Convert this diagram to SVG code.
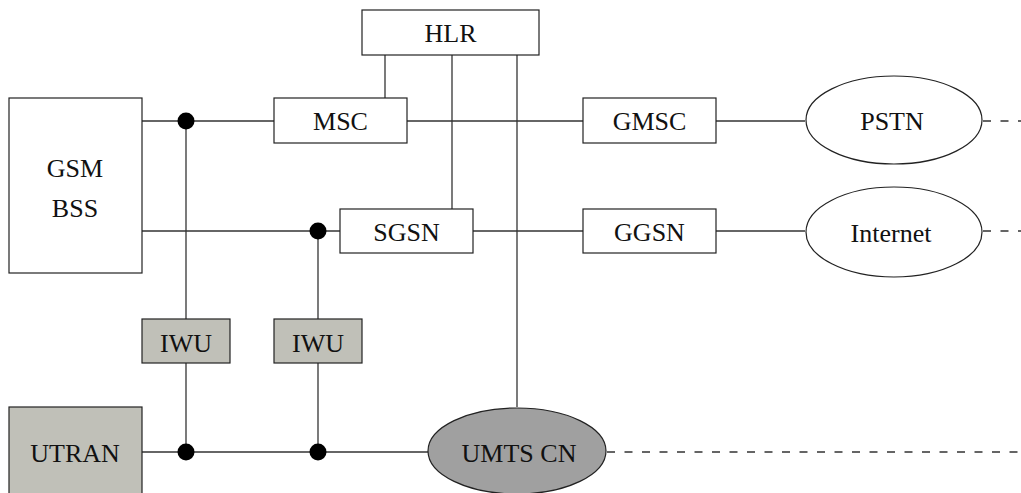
<svg xmlns="http://www.w3.org/2000/svg" width="1021" height="493" viewBox="0 0 1021 493">
  <style>
    .box { fill: #ffffff; stroke: #222222; stroke-width: 1.2; }
    .iwu { fill: #c0c0b8; stroke: #222222; stroke-width: 1.2; }
    .cn { fill: #a0a0a0; stroke: #222222; stroke-width: 1.2; }
    .line { stroke: #333333; stroke-width: 1.3; fill: none; }
    .dash { stroke: #333333; stroke-width: 1.3; fill: none; stroke-dasharray: 8 9.5; }
    .dot { fill: #000000; }
    .lbl { font-family: 'Liberation Serif', 'DejaVu Serif', serif; font-size: 26px; fill: #111111; text-anchor: middle; }
  </style>

  <!-- connectors -->
  <g id="connectors">
    <!-- circuit-switched row -->
    <line class="line" x1="142" y1="121" x2="274" y2="121"/>
    <line class="line" x1="407" y1="121" x2="583" y2="121"/>
    <line class="line" x1="716" y1="121" x2="805" y2="121"/>
    <line class="dash" x1="983" y1="121" x2="1021" y2="121"/>
    <!-- packet-switched row -->
    <line class="line" x1="142" y1="231" x2="340" y2="231"/>
    <line class="line" x1="473" y1="231" x2="583" y2="231"/>
    <line class="line" x1="716" y1="231" x2="805" y2="231"/>
    <line class="dash" x1="983" y1="231" x2="1021" y2="231"/>
    <!-- UMTS row -->
    <line class="line" x1="142" y1="452" x2="428" y2="452"/>
    <line class="dash" x1="607" y1="452" x2="1021" y2="452"/>
    <!-- HLR links -->
    <line class="line" x1="385" y1="55" x2="385" y2="98"/>
    <line class="line" x1="452" y1="55" x2="452" y2="209"/>
    <line class="line" x1="517" y1="55" x2="517" y2="407"/>
    <!-- interworking verticals -->
    <line class="line" x1="186" y1="121" x2="186" y2="319"/>
    <line class="line" x1="186" y1="363" x2="186" y2="452"/>
    <line class="line" x1="318" y1="231" x2="318" y2="319"/>
    <line class="line" x1="318" y1="363" x2="318" y2="452"/>
    <!-- junction dots -->
    <circle class="dot" cx="186" cy="121" r="8.5"/>
    <circle class="dot" cx="318" cy="231" r="8.5"/>
    <circle class="dot" cx="186" cy="452" r="8.5"/>
    <circle class="dot" cx="318" cy="452" r="8.5"/>
  </g>

  <g id="hlr">
    <rect class="box" x="362" y="10" width="177" height="45"/>
    <text class="lbl" x="450.5" y="42">HLR</text>
  </g>

  <g id="gsm-bss">
    <rect class="box" x="9" y="98" width="133" height="175"/>
    <text class="lbl" x="75" y="177">GSM</text>
    <text class="lbl" x="75" y="217">BSS</text>
  </g>

  <g id="msc">
    <rect class="box" x="274" y="98" width="133" height="45"/>
    <text class="lbl" x="340.5" y="130">MSC</text>
  </g>

  <g id="sgsn">
    <rect class="box" x="340" y="209" width="133" height="44"/>
    <text class="lbl" x="406.5" y="241">SGSN</text>
  </g>

  <g id="gmsc">
    <rect class="box" x="583" y="98" width="133" height="45"/>
    <text class="lbl" x="649.5" y="130">GMSC</text>
  </g>

  <g id="ggsn">
    <rect class="box" x="583" y="209" width="133" height="44"/>
    <text class="lbl" x="649.5" y="241">GGSN</text>
  </g>

  <g id="pstn">
    <ellipse class="box" cx="894" cy="120" rx="88" ry="44"/>
    <text class="lbl" x="892" y="130">PSTN</text>
  </g>

  <g id="internet">
    <ellipse class="box" cx="894" cy="232" rx="88" ry="45"/>
    <text class="lbl" x="891" y="242">Internet</text>
  </g>

  <g id="iwu-1">
    <rect class="iwu" x="142" y="319" width="88" height="44"/>
    <text class="lbl" x="186" y="352">IWU</text>
  </g>

  <g id="iwu-2">
    <rect class="iwu" x="274" y="319" width="88" height="44"/>
    <text class="lbl" x="318" y="352">IWU</text>
  </g>

  <g id="utran">
    <rect class="iwu" x="9" y="407" width="133" height="92"/>
    <text class="lbl" x="75" y="462">UTRAN</text>
  </g>

  <g id="umts-cn">
    <ellipse class="cn" cx="517" cy="451" rx="89" ry="43"/>
    <text class="lbl" x="519" y="462">UMTS CN</text>
  </g>
</svg>
